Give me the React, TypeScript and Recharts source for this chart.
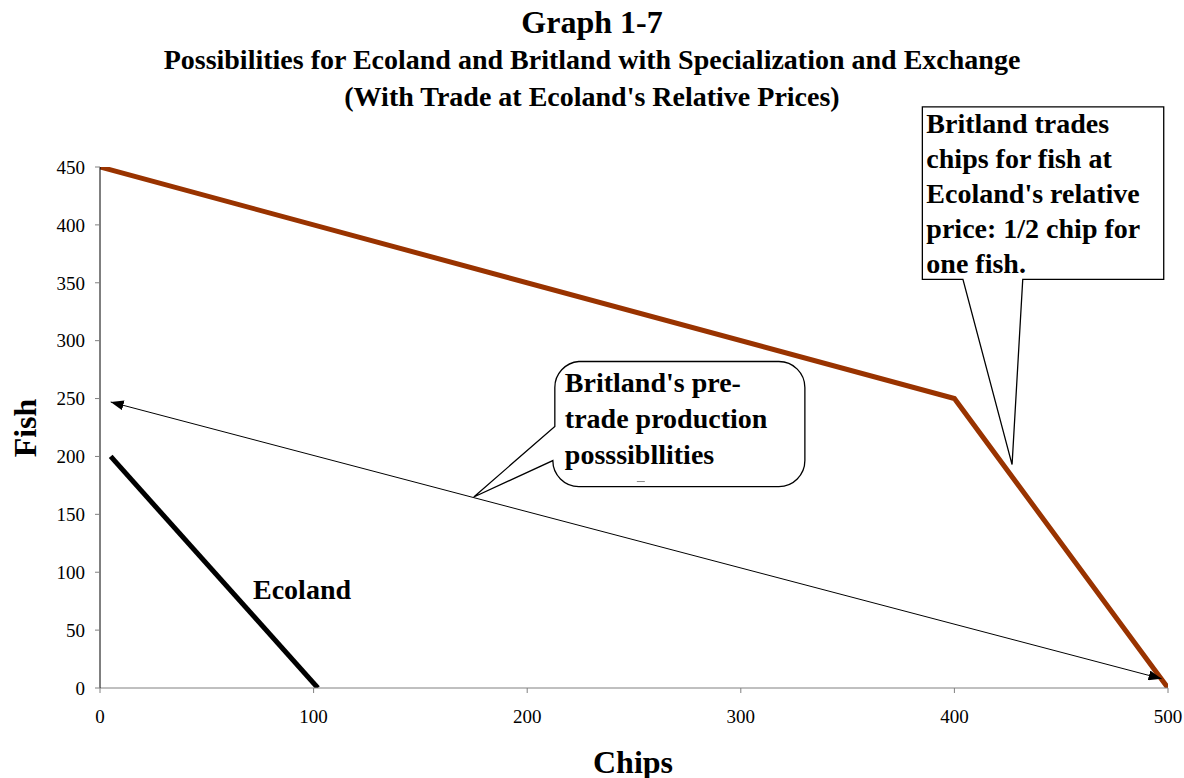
import { LineChart, Line, XAxis, YAxis, ReferenceArea } from 'recharts';

const chipTicks = [0, 100, 200, 300, 400, 500];
const fishTicks = [0, 50, 100, 150, 200, 250, 300, 350, 400, 450];

const britlandChips = [0, 400, 500];
const britlandFish = [450, 250, 0];
const ecolandChips = [5, 102];
const ecolandFish = [200, 0];
const pretradeChips = [5, 497];
const pretradeFish = [247, 8];

const pretradeNote = ["Britland's pre-", 'trade production', 'posssibllities'];
const tradeNote = ['Britland trades', 'chips for fish at', "Ecoland's relative", 'price: 1/2 chip for', 'one fish.'];

const toPoints = (xs: number[], ys: number[]) => xs.map((x, i) => ({ x, y: ys[i] }));

const britland = toPoints(britlandChips, britlandFish);
const ecoland = toPoints(ecolandChips, ecolandFish);
const pretrade = toPoints(pretradeChips, pretradeFish);

// callouts, in chart units
const pretradeBox = { x1: 212, x2: 330, y1: 174, y2: 282, tip: [175, 165] };
const tradeBox = { x1: 385, x2: 498, y1: 353, y2: 502, tip: [427, 193], base: [404, 432] };

const serif = '"Liberation Serif", "Times New Roman", serif';
const noteFont = { fontFamily: serif, fontWeight: 700, fontSize: 28, fill: '#000' };

function roundBubble(p: any) {
  const { x, y, width, height } = p;
  const b = pretradeBox;
  const sx = width / (b.x2 - b.x1);
  const sy = height / (b.y2 - b.y1);
  const tx = x + (b.tip[0] - b.x1) * sx;
  const ty = y + (b.y2 - b.tip[1]) * sy;
  const r = 26;
  const R = x + width;
  const B = y + height;
  const d = `M${x + r},${y} H${R - r} A${r},${r} 0 0 1 ${R},${y + r} V${B - r} A${r},${r} 0 0 1 ${R - r},${B} H${x + r} A${r},${r} 0 0 1 ${x},${B - r} L${tx},${ty} L${x + 2},${y + 65} V${y + r} A${r},${r} 0 0 1 ${x + r},${y} Z`;
  return (
    <g>
      <path d={d} fill="#fff" stroke="#000" strokeWidth={1.3} />
      {pretradeNote.map((t, i) => (
        <text key={i} x={x + 12} y={y + 30 + i * 36} style={noteFont}>{t}</text>
      ))}
      <line x1={x + 84} x2={x + 92} y1={B - 5} y2={B - 5} stroke="#888" strokeWidth={1} />
    </g>
  );
}

function boxBubble(p: any) {
  const { x, y, width, height } = p;
  const b = tradeBox;
  const sx = width / (b.x2 - b.x1);
  const sy = height / (b.y2 - b.y1);
  const tx = x + (b.tip[0] - b.x1) * sx;
  const ty = y + (b.y2 - b.tip[1]) * sy;
  const bl = x + (b.base[0] - b.x1) * sx;
  const br = x + (b.base[1] - b.x1) * sx;
  const R = x + width;
  const B = y + height;
  const d = `M${x},${y} H${R} V${B} H${br} L${tx},${ty} L${bl},${B} H${x} Z`;
  return (
    <g>
      <path d={d} fill="#fff" stroke="#000" strokeWidth={1.3} />
      {tradeNote.map((t, i) => (
        <text key={i} x={x + 4} y={y + 26 + i * 35} style={noteFont}>{t}</text>
      ))}
    </g>
  );
}

const tick = { fontFamily: serif, fontSize: 19, fill: '#000' };

export default function App() {
  return (
    <div style={{ position: 'absolute', left: 0, top: 0, width: 1184, height: 778, background: '#fff', fontFamily: serif }}>
      <div style={{ position: 'absolute', left: 0, width: 1184, top: 4, textAlign: 'center', fontWeight: 700, fontSize: 32, lineHeight: '36px' }}>
        Graph 1-7
      </div>
      <div style={{ position: 'absolute', left: 0, width: 1184, top: 43, textAlign: 'center', fontWeight: 700, fontSize: 28, lineHeight: '34px' }}>
        Possibilities for Ecoland and Britland with Specialization and Exchange
      </div>
      <div style={{ position: 'absolute', left: 0, width: 1184, top: 80, textAlign: 'center', fontWeight: 700, fontSize: 28, lineHeight: '34px' }}>
        (With Trade at Ecoland's Relative Prices)
      </div>

      <div style={{ position: 'absolute', left: 0, top: 0 }}>
        <LineChart width={1184} height={778} margin={{ top: 167, right: 16, bottom: 60, left: 40 }}>
          <defs>
            <marker id="arrowHead" viewBox="0 0 13 10" refX={13} refY={5} markerWidth={13} markerHeight={10} markerUnits="userSpaceOnUse" orient="auto-start-reverse">
              <path d="M0,0 L13,5 L0,10 z" fill="#000" />
            </marker>
          </defs>
          <XAxis
            type="number"
            dataKey="x"
            domain={[0, 500]}
            ticks={chipTicks}
            tick={tick}
            tickSize={5}
            tickMargin={17}
            height={30}
            axisLine={{ stroke: '#808080' }}
            tickLine={{ stroke: '#808080' }}
            allowDataOverflow
          />
          <YAxis
            type="number"
            dataKey="y"
            domain={[0, 450]}
            ticks={fishTicks}
            tick={tick}
            tickSize={5}
            tickMargin={10}
            width={60}
            axisLine={{ stroke: '#000' }}
            tickLine={{ stroke: '#808080' }}
            allowDataOverflow
          />
          <Line data={britland} dataKey="y" stroke="#993300" strokeWidth={5} dot={false} isAnimationActive={false} strokeLinejoin="miter" />
          <Line data={ecoland} dataKey="y" stroke="#000" strokeWidth={5} dot={false} isAnimationActive={false} />
          <Line
            data={pretrade}
            dataKey="y"
            stroke="#000"
            strokeWidth={1}
            dot={false}
            isAnimationActive={false}
            markerStart="url(#arrowHead)"
            markerEnd="url(#arrowHead)"
          />
          <ReferenceArea
            x1={pretradeBox.x1}
            x2={pretradeBox.x2}
            y1={pretradeBox.y1}
            y2={pretradeBox.y2}
            ifOverflow="visible"
            shape={roundBubble}
          />
          <ReferenceArea
            x1={tradeBox.x1}
            x2={tradeBox.x2}
            y1={tradeBox.y1}
            y2={tradeBox.y2}
            ifOverflow="visible"
            shape={boxBubble}
          />
        </LineChart>
      </div>

      <div style={{ position: 'absolute', left: 253, top: 572, fontWeight: 700, fontSize: 28, lineHeight: '36px' }}>Ecoland</div>
      <div style={{ position: 'absolute', left: 533, width: 200, top: 742, textAlign: 'center', fontWeight: 700, fontSize: 32, lineHeight: '40px' }}>Chips</div>
      <div
        style={{
          position: 'absolute',
          left: 25 - 50,
          top: 428 - 20,
          width: 100,
          textAlign: 'center',
          fontWeight: 700,
          fontSize: 32,
          lineHeight: '40px',
          transform: 'rotate(-90deg)',
        }}
      >
        Fish
      </div>
    </div>
  );
}
